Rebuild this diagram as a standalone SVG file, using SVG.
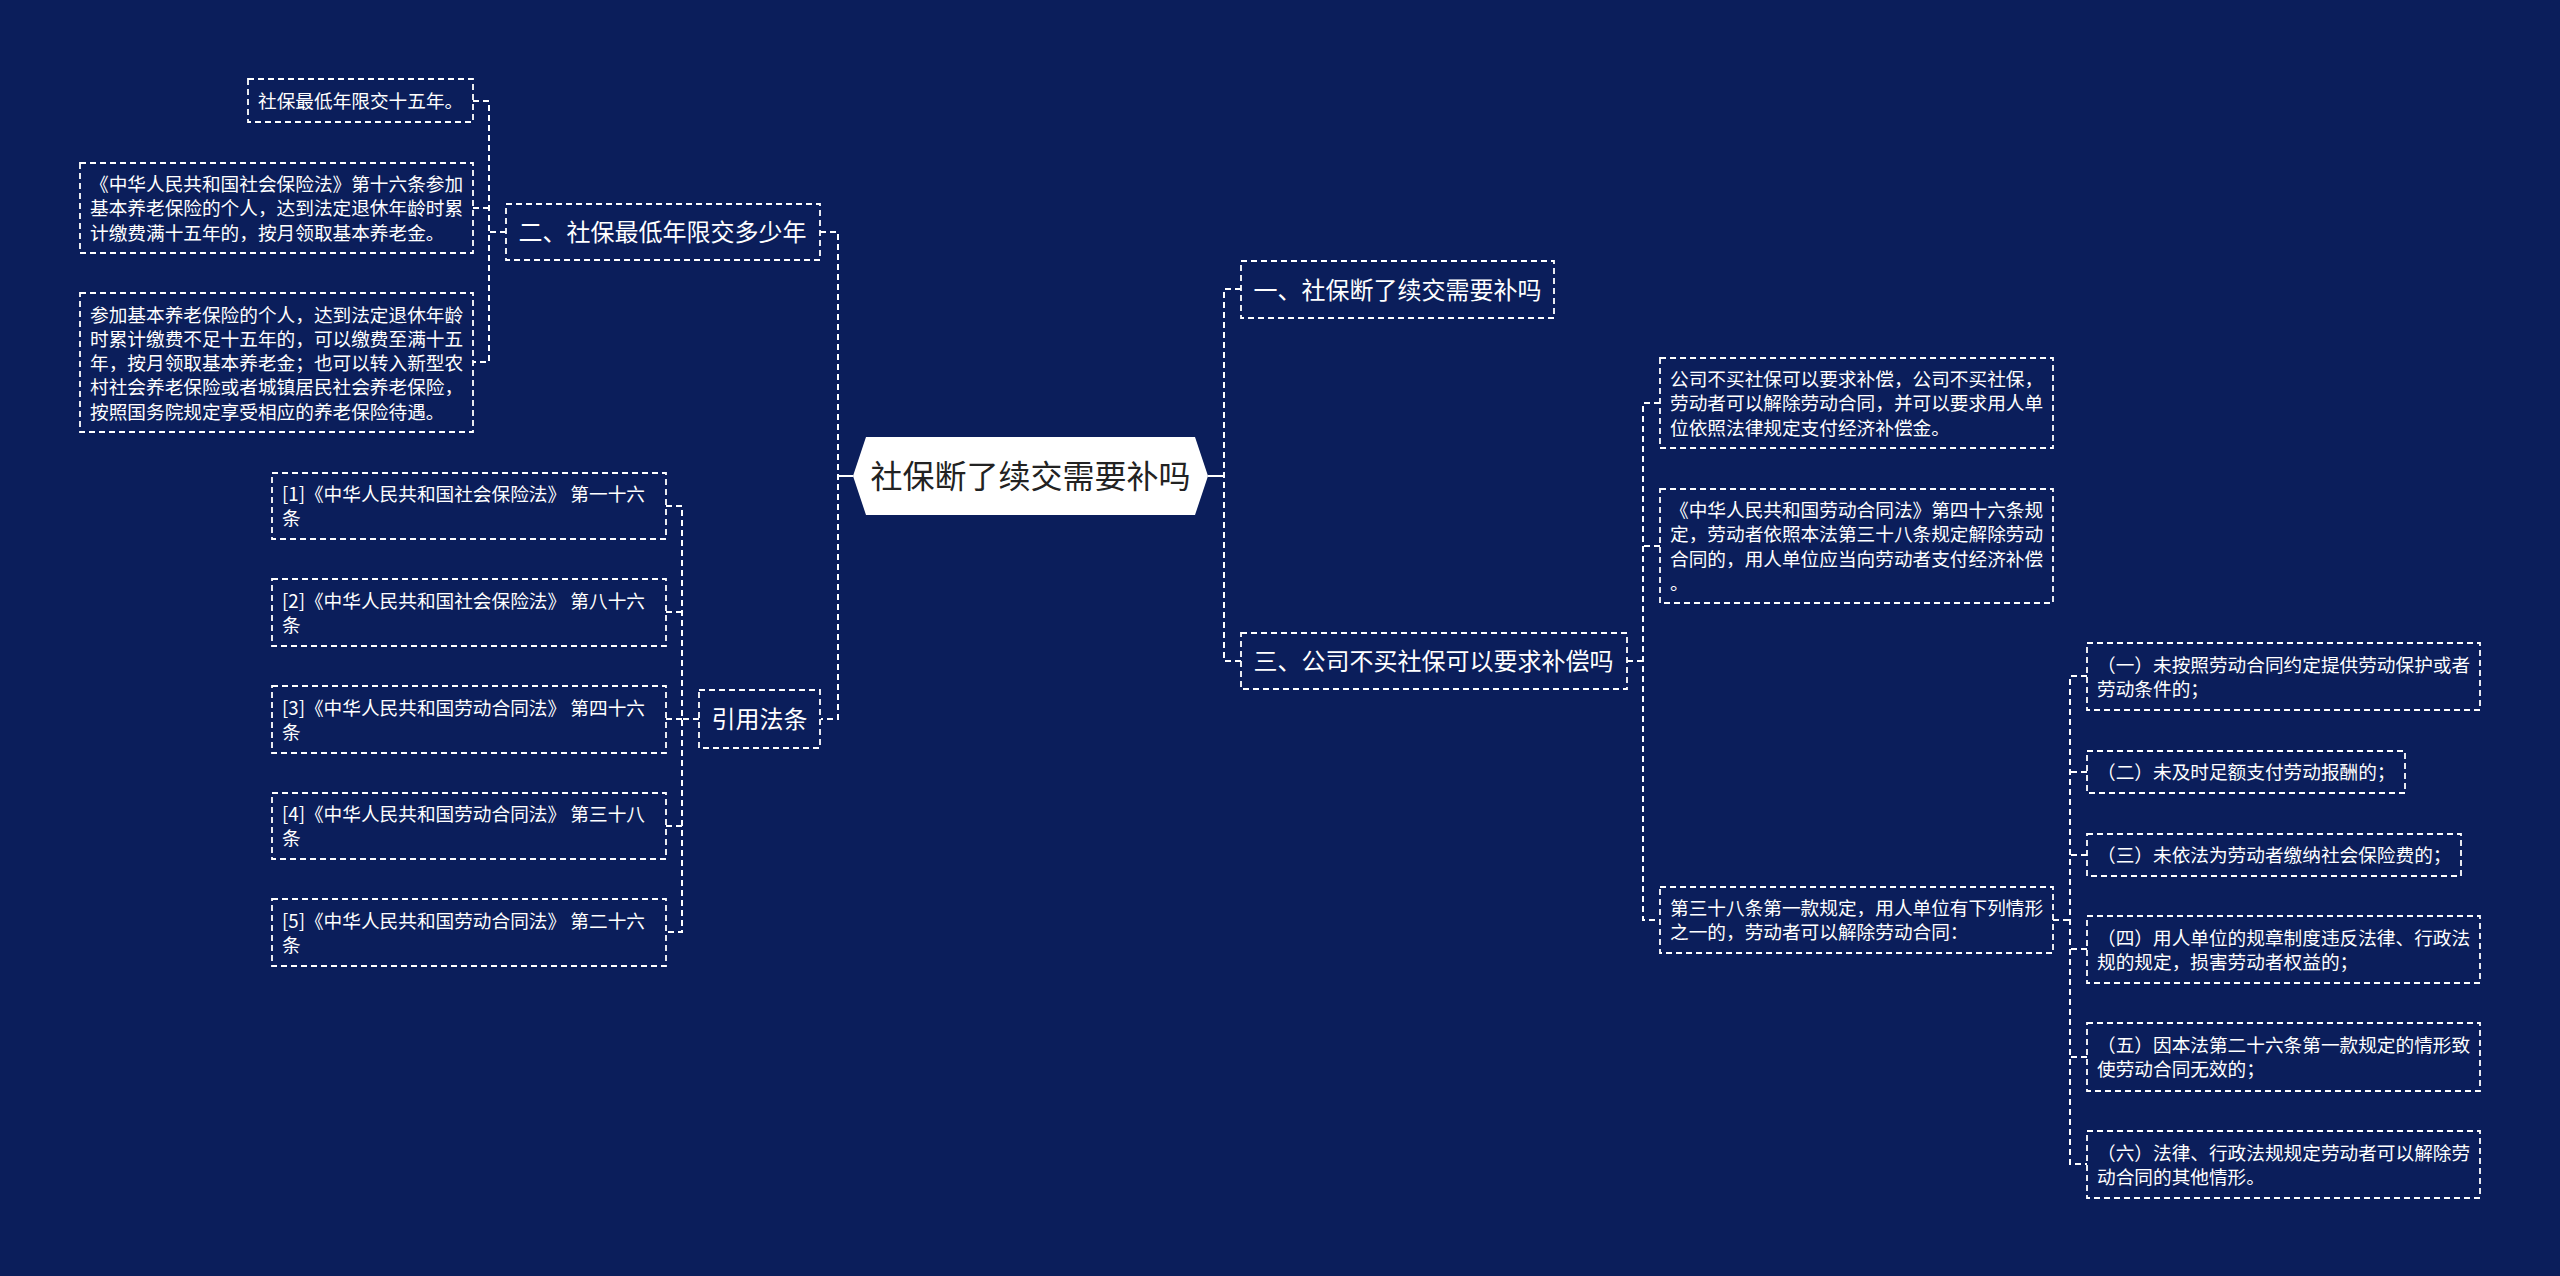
<svg xmlns="http://www.w3.org/2000/svg" width="2560" height="1276" viewBox="0 0 2560 1276">
<style>
.bg{fill:#0b1e5b}
.box{fill:none;stroke:#ffffff;stroke-width:1.8;stroke-dasharray:6 4}
.ln{fill:none;stroke:#ffffff;stroke-width:2;stroke-dasharray:6 4}
.solid{fill:none;stroke:#ffffff;stroke-width:2}
.t{font-family:"Noto Sans CJK SC","Noto Sans",sans-serif;fill:#ffffff;font-size:18.67px}
.t1{font-family:"Noto Sans CJK SC","Noto Sans",sans-serif;fill:#ffffff;font-size:24px}
.tc{font-family:"Noto Sans CJK SC","Noto Sans",sans-serif;fill:#222222;font-size:32px}
</style>
<rect class="bg" x="0" y="0" width="2560" height="1276"/>
<g id="connectors">
<path class="solid" d="M853,476 H838"/>
<path class="ln" d="M820,232 H838 V719 H821"/>
<path class="ln" d="M506,232 H489"/>
<path class="ln" d="M473,101 H489 V362 H473"/>
<path class="ln" d="M473,208 H489"/>
<path class="ln" d="M699,719 H682"/>
<path class="ln" d="M666,506 H682 V932 H666"/>
<path class="ln" d="M666,612 H682"/>
<path class="ln" d="M666,719 H682"/>
<path class="ln" d="M666,826 H682"/>
<path class="solid" d="M1208,476 H1224"/>
<path class="ln" d="M1241,289 H1224 V661 H1241"/>
<path class="ln" d="M1627,661 H1643"/>
<path class="ln" d="M1660,403 H1643 V920 H1660"/>
<path class="ln" d="M1660,546 H1643"/>
<path class="ln" d="M2053,920 H2070"/>
<path class="ln" d="M2087,676 H2070 V1164 H2087"/>
<path class="ln" d="M2087,772 H2070"/>
<path class="ln" d="M2087,855 H2070"/>
<path class="ln" d="M2087,949 H2070"/>
<path class="ln" d="M2087,1057 H2070"/>
</g>
<g id="root">
<polygon points="866,437 1195,437 1208,476 1195,515 866,515 853,476" fill="#ffffff"/>
<text class="tc" x="1030.5" y="488" text-anchor="middle">社保断了续交需要补吗</text>
</g>
<g id="n-er">
<rect class="box" x="506" y="204" width="314" height="56"/>
<text class="t1" x="518.5" y="241">二、社保最低年限交多少年</text>
</g>
<g id="n-er-1">
<rect class="box" x="248" y="79" width="225" height="43"/>
<text class="t" x="258" y="108">社保最低年限交十五年。</text>
</g>
<g id="n-er-2">
<rect class="box" x="80" y="163" width="393" height="90"/>
<text class="t"><tspan x="90" y="191">《中华人民共和国社会保险法》第十六条参加</tspan><tspan x="90" y="215.3">基本养老保险的个人，达到法定退休年龄时累</tspan><tspan x="90" y="239.6">计缴费满十五年的，按月领取基本养老金。</tspan></text>
</g>
<g id="n-er-3">
<rect class="box" x="80" y="293" width="393" height="139"/>
<text class="t"><tspan x="90" y="321.5">参加基本养老保险的个人，达到法定退休年龄</tspan><tspan x="90" y="345.8">时累计缴费不足十五年的，可以缴费至满十五</tspan><tspan x="90" y="370.1">年，按月领取基本养老金；也可以转入新型农</tspan><tspan x="90" y="394.4">村社会养老保险或者城镇居民社会养老保险，</tspan><tspan x="90" y="418.7">按照国务院规定享受相应的养老保险待遇。</tspan></text>
</g>
<g id="n-ref">
<rect class="box" x="699" y="690" width="121" height="58"/>
<text class="t1" x="711.5" y="728">引用法条</text>
</g>
<g id="n-ref-1">
<rect class="box" x="272" y="473" width="394" height="66"/>
<text class="t"><tspan x="282" y="501">[1]《中华人民共和国社会保险法》 第一十六</tspan><tspan x="282" y="525.3">条</tspan></text>
</g>
<g id="n-ref-2">
<rect class="box" x="272" y="579" width="394" height="67"/>
<text class="t"><tspan x="282" y="607.5">[2]《中华人民共和国社会保险法》 第八十六</tspan><tspan x="282" y="631.8">条</tspan></text>
</g>
<g id="n-ref-3">
<rect class="box" x="272" y="686" width="394" height="67"/>
<text class="t"><tspan x="282" y="714.5">[3]《中华人民共和国劳动合同法》 第四十六</tspan><tspan x="282" y="738.8">条</tspan></text>
</g>
<g id="n-ref-4">
<rect class="box" x="272" y="793" width="394" height="66"/>
<text class="t"><tspan x="282" y="821">[4]《中华人民共和国劳动合同法》 第三十八</tspan><tspan x="282" y="845.3">条</tspan></text>
</g>
<g id="n-ref-5">
<rect class="box" x="272" y="899" width="394" height="67"/>
<text class="t"><tspan x="282" y="927.5">[5]《中华人民共和国劳动合同法》 第二十六</tspan><tspan x="282" y="951.8">条</tspan></text>
</g>
<g id="n-yi">
<rect class="box" x="1241" y="261" width="313" height="57"/>
<text class="t1" x="1253.5" y="298.5">一、社保断了续交需要补吗</text>
</g>
<g id="n-san">
<rect class="box" x="1241" y="633" width="386" height="56"/>
<text class="t1" x="1253.5" y="670">三、公司不买社保可以要求补偿吗</text>
</g>
<g id="n-san-1">
<rect class="box" x="1660" y="358" width="393" height="90"/>
<text class="t"><tspan x="1670" y="386">公司不买社保可以要求补偿，公司不买社保，</tspan><tspan x="1670" y="410.3">劳动者可以解除劳动合同，并可以要求用人单</tspan><tspan x="1670" y="434.6">位依照法律规定支付经济补偿金。</tspan></text>
</g>
<g id="n-san-2">
<rect class="box" x="1660" y="489" width="393" height="114"/>
<text class="t"><tspan x="1670" y="517">《中华人民共和国劳动合同法》第四十六条规</tspan><tspan x="1670" y="541.3">定，劳动者依照本法第三十八条规定解除劳动</tspan><tspan x="1670" y="565.6">合同的，用人单位应当向劳动者支付经济补偿</tspan><tspan x="1670" y="589.9">。</tspan></text>
</g>
<g id="n-san-3">
<rect class="box" x="1660" y="887" width="393" height="66"/>
<text class="t"><tspan x="1670" y="915">第三十八条第一款规定，用人单位有下列情形</tspan><tspan x="1670" y="939.3">之一的，劳动者可以解除劳动合同：</tspan></text>
</g>
<g id="n-c1">
<rect class="box" x="2087" y="643" width="393" height="67"/>
<text class="t"><tspan x="2097" y="671.5">（一）未按照劳动合同约定提供劳动保护或者</tspan><tspan x="2097" y="695.8">劳动条件的；</tspan></text>
</g>
<g id="n-c2">
<rect class="box" x="2087" y="751" width="318" height="42"/>
<text class="t" x="2097" y="779">（二）未及时足额支付劳动报酬的；</text>
</g>
<g id="n-c3">
<rect class="box" x="2087" y="834" width="374" height="42"/>
<text class="t" x="2097" y="862">（三）未依法为劳动者缴纳社会保险费的；</text>
</g>
<g id="n-c4">
<rect class="box" x="2087" y="916" width="393" height="67"/>
<text class="t"><tspan x="2097" y="944.5">（四）用人单位的规章制度违反法律、行政法</tspan><tspan x="2097" y="968.8">规的规定，损害劳动者权益的；</tspan></text>
</g>
<g id="n-c5">
<rect class="box" x="2087" y="1023" width="393" height="68"/>
<text class="t"><tspan x="2097" y="1052">（五）因本法第二十六条第一款规定的情形致</tspan><tspan x="2097" y="1076.3">使劳动合同无效的；</tspan></text>
</g>
<g id="n-c6">
<rect class="box" x="2087" y="1131" width="393" height="67"/>
<text class="t"><tspan x="2097" y="1159.5">（六）法律、行政法规规定劳动者可以解除劳</tspan><tspan x="2097" y="1183.8">动合同的其他情形。</tspan></text>
</g>
</svg>
